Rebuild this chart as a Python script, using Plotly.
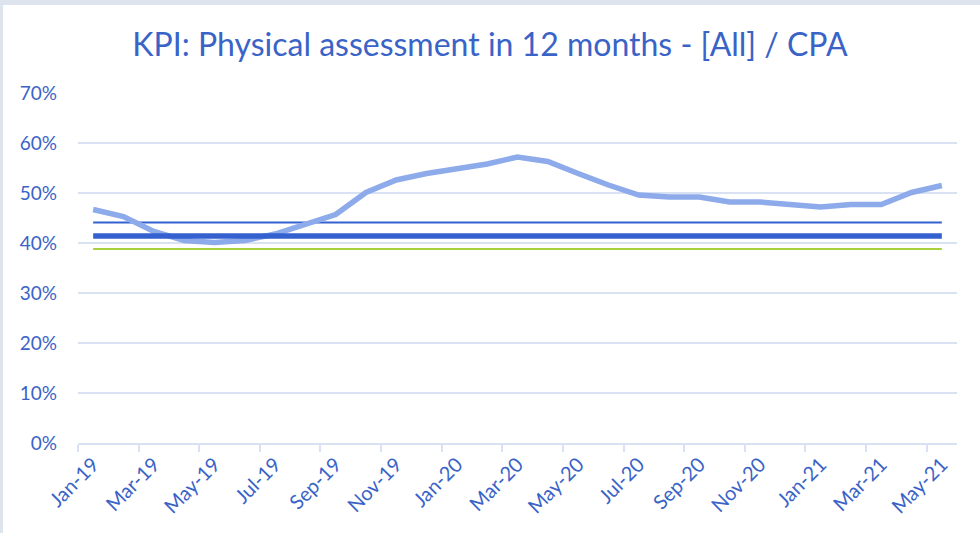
import plotly.graph_objects as go

months = ["Jan-19", "Feb-19", "Mar-19", "Apr-19", "May-19", "Jun-19", "Jul-19", "Aug-19",
          "Sep-19", "Oct-19", "Nov-19", "Dec-19", "Jan-20", "Feb-20", "Mar-20", "Apr-20",
          "May-20", "Jun-20", "Jul-20", "Aug-20", "Sep-20", "Oct-20", "Nov-20", "Dec-20",
          "Jan-21", "Feb-21", "Mar-21", "Apr-21", "May-21"]

kpi = [0.467, 0.453, 0.423, 0.405, 0.401, 0.405, 0.418, 0.438, 0.457, 0.501, 0.526,
       0.539, 0.549, 0.558, 0.572, 0.563, 0.539, 0.516, 0.496, 0.492, 0.492, 0.482,
       0.482, 0.477, 0.472, 0.477, 0.477, 0.501, 0.515]

level_thin = 0.441
level_thick = 0.414
level_green = 0.388

TEXT = "#3A63C8"
GRID = "#D9E2F3"
FONT = "Lato, 'Open Sans', sans-serif"

fig = go.Figure()
fig.add_trace(go.Scatter(x=months, y=[level_green] * len(months), mode="lines",
                         line=dict(color="#A9D13B", width=2.2), hoverinfo="skip"))
fig.add_trace(go.Scatter(x=months, y=[level_thin] * len(months), mode="lines",
                         line=dict(color="#3461CF", width=2.2), hoverinfo="skip"))
fig.add_trace(go.Scatter(x=months, y=kpi, mode="lines",
                         line=dict(color="#8DAAEA", width=5.5)))
fig.add_trace(go.Scatter(x=months, y=[level_thick] * len(months), mode="lines",
                         line=dict(color="#3461CF", width=5.5), hoverinfo="skip"))

W, H = 980, 533
L, R, T, B = 78, 23, 93, 90
pw, ph = W - L - R, H - T - B

fig.add_shape(type="rect", xref="paper", yref="paper", layer="below",
              x0=(3 - L) / pw, x1=(W - L) / pw,
              y0=(H - B - H) / ph, y1=(H - B - 5) / ph,
              fillcolor="white", line=dict(width=0))

fig.update_layout(
    width=W, height=H,
    margin=dict(l=L, r=R, t=T, b=B),
    paper_bgcolor="#DEE4ED",
    plot_bgcolor="rgba(0,0,0,0)",
    showlegend=False,
    font=dict(family=FONT, color=TEXT),
    title=dict(text="KPI: Physical assessment in 12 months - [All] / CPA",
               x=0.5, xref="container", xanchor="center",
               y=1 - 45 / H, yanchor="middle",
               font=dict(size=32, color=TEXT, family=FONT)),
    xaxis=dict(type="category", tickson="boundaries", tickmode="linear", tick0=0, dtick=2,
               ticks="outside", ticklen=7, tickcolor=GRID, tickwidth=2,
               showline=True, linecolor=GRID, linewidth=2,
               showgrid=False, tickangle=-45,
               tickfont=dict(size=20, color=TEXT, family=FONT),
               range=[-0.5, len(months) - 0.5]),
    yaxis=dict(range=[0, 0.7], dtick=0.1, tickformat=".0%",
               showgrid=True, gridcolor=GRID, gridwidth=1.5,
               zeroline=False, showline=False, ticks="",
               ticklabelstandoff=20,
               tickfont=dict(size=19, color=TEXT, family=FONT)),
)

fig.write_html("out.html", config={"displayModeBar": False},
               post_script="document.body.style.margin='0px';")
